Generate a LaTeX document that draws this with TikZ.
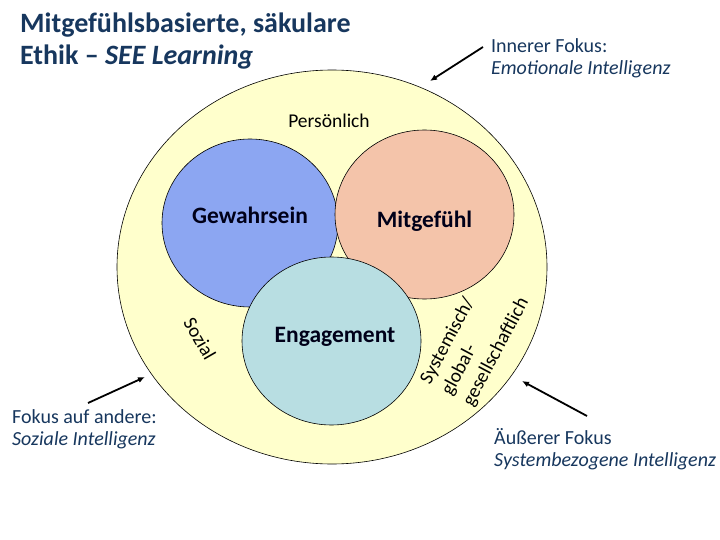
\documentclass[tikz,border=0pt]{standalone}
\usepackage{fontspec}
\setmainfont{Carlito}
\usetikzlibrary{arrows.meta}
\definecolor{navy}{RGB}{23,55,94}
\definecolor{ringyellow}{RGB}{255,255,204}
\definecolor{awareblue}{RGB}{140,166,242}
\definecolor{compsalmon}{RGB}{244,196,170}
\definecolor{engteal}{RGB}{184,222,226}
\tikzset{
  ring/.style={draw=black, line width=0.6pt},
  titletext/.style={inner sep=0pt, text=navy, font=\fontsize{28}{32}\selectfont\bfseries},
  sidetext/.style={inner sep=0pt, text=navy, font=\fontsize{20}{22}\selectfont},
  lbl/.style={inner sep=0pt, text=black, font=\fontsize{19.5}{24}\selectfont},
  core/.style={inner sep=0pt, text=black!90!blue, font=\fontsize{23.5}{28}\selectfont\bfseries},
  arr/.style={-{Latex[length=7pt,width=6pt]}, line width=1.8pt, black}
}
\begin{document}
\begin{tikzpicture}[x=1pt,y=-1pt]
\useasboundingbox (0,0) rectangle (720,540);
\fill[white] (0,0) rectangle (720,540);

% circles
\draw[ring, fill=ringyellow] (332,267) ellipse [x radius=215pt, y radius=197pt];
\draw[ring, fill=awareblue] (250,223) ellipse [x radius=88pt, y radius=84pt];
\draw[ring, fill=compsalmon] (424.5,214.5) ellipse [x radius=89.5pt, y radius=84.5pt];
\draw[ring, fill=engteal] (331.5,341) ellipse [x radius=89.5pt, y radius=84pt];

% title
\node[titletext, anchor=base west] (t1) at (20,33) {Mitgefühlsbasierte, säkulare};
\node[titletext, anchor=base west] (t2) at (20,65) {Ethik – \textit{SEE Learning}};

% side texts
\node[sidetext, anchor=base west] (in1) at (491,53) {Innerer Fokus:};
\node[sidetext, anchor=base west] (in2) at (491,75) {\textit{Emotionale Intelligenz}};
\node[sidetext, anchor=base west] (so1) at (12,423) {Fokus auf andere:};
\node[sidetext, anchor=base west] (so2) at (12,445) {\textit{Soziale Intelligenz}};
\node[sidetext, anchor=base west] (au1) at (494,444) {Äußerer Fokus};
\node[sidetext, anchor=base west] (au2) at (494,466) {\textit{Systembezogene Intelligenz}};

% ring labels
\node[lbl, anchor=base] (pers) at (329,128) {Persönlich};
\node[lbl, rotate=-60] (soz) at (200,339) {Sozial};
\node[lbl, rotate=62, align=left] (sys) at (475,341) {Systemisch/\\global-\\gesellschaftlich};

% core labels
\node[core, anchor=base] (gew) at (250,224) {Gewahrsein};
\node[core, anchor=base] (mit) at (424.5,228) {Mitgefühl};
\node[core, anchor=base] (eng) at (335,342) {Engagement};

% arrows
\coordinate (a1s) at (483,47);
\coordinate (a1e) at (430,81);
\coordinate (a2s) at (88,403);
\coordinate (a2e) at (145,377);
\coordinate (a3s) at (587,416);
\coordinate (a3e) at (522,381);
\draw[arr] (a1s) -- (a1e);
\draw[arr] (a2s) -- (a2e);
\draw[arr] (a3s) -- (a3e);
\end{tikzpicture}
\end{document}
